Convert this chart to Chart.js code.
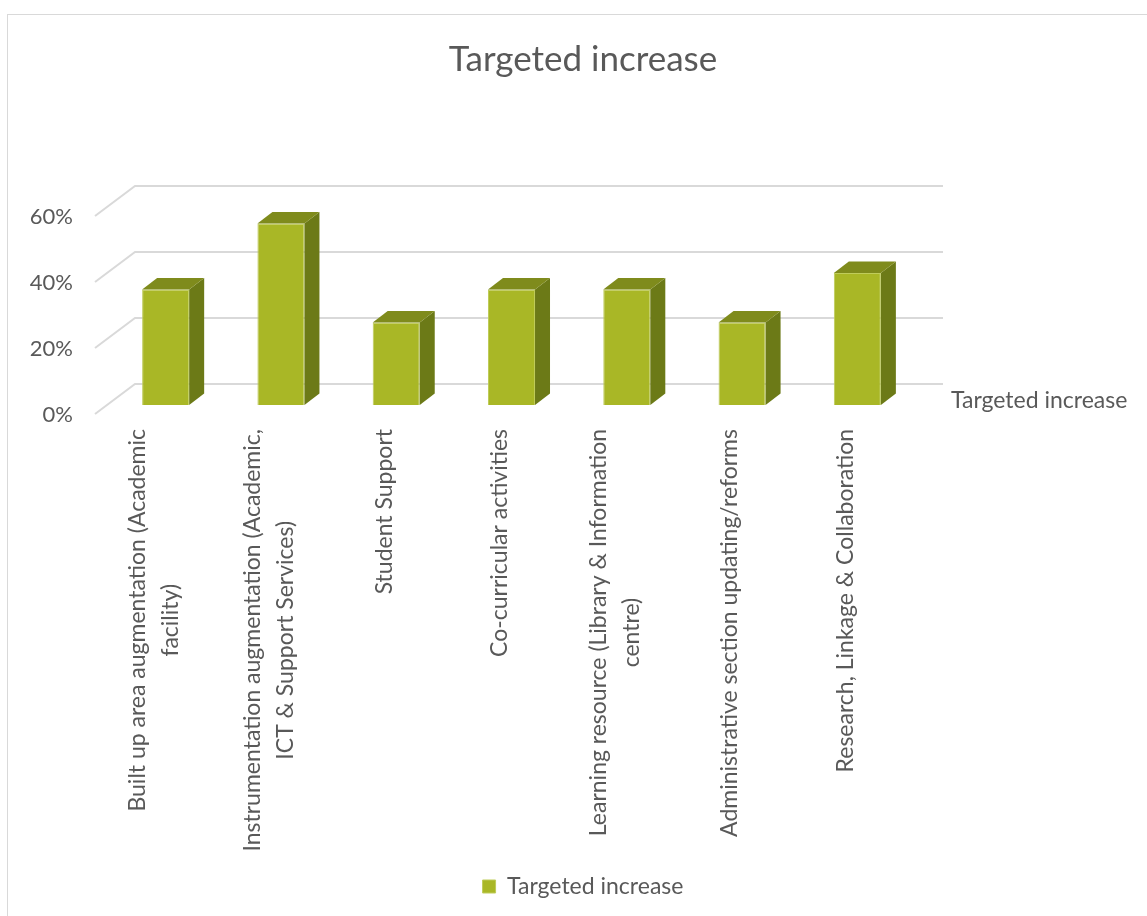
<!DOCTYPE html>
<html>
<head>
<meta charset="utf-8">
<script src="https://cdn.jsdelivr.net/npm/chart.js@4.4.1/dist/chart.umd.min.js"></script>
<style>
  html, body { margin: 0; padding: 0; background: #fff; overflow: hidden; }
  #frame { position: absolute; left: 7px; top: 14px; width: 1200px; height: 1000px; border: 1.5px solid #d9d9d9; }
  #chart { position: absolute; left: 8px; top: 15px; }
</style>
</head>
<body>
<div id="frame"></div>
<canvas id="chart" width="1150" height="893"></canvas>
<script>
// ================= DATA =================
const categories = [
    ["Built up area augmentation (Academic", "facility)"],
    ["Instrumentation augmentation (Academic,", "ICT & Support Services)"],
    ["Student Support"],
    ["Co-curricular activities"],
    ["Learning resource (Library & Information", "centre)"],
    ["Administrative section updating/reforms"],
    ["Research, Linkage & Collaboration"]
];
const seriesName = "Targeted increase";
const targetedIncrease = [0.35, 0.55, 0.25, 0.35, 0.35, 0.25, 0.40];
const yTicks = [0, 0.2, 0.4, 0.6];

// ================= STYLE =================
const FONT = "Lato, 'Open Sans', sans-serif";
const TEXT = "#595959";
const GRID = "#d9d9d9";
const FRONT = "#a9b726", SIDE = "#6c7a17", TOP = "#7f8b1c";
const DX = 15, DY = -11.5;          // bar depth
const WALL_DX = 27, WALL_DY = -21;  // back wall offset from bar fronts

// Back wall, side walls and the 3D faces of the columns
const box3d = {
    id: "box3d",
    beforeDatasetsDraw(chart) {
        const { ctx, chartArea: ca, scales: { y } } = chart;
        ctx.save();
        ctx.strokeStyle = GRID;
        ctx.lineWidth = 2;
        yTicks.forEach(v => {
            const py = y.getPixelForValue(v);
            ctx.beginPath();
            ctx.moveTo(ca.left - 13, py + 9);
            ctx.lineTo(ca.left + WALL_DX, py + WALL_DY);
            ctx.lineTo(ca.right + WALL_DX + 1, py + WALL_DY);
            ctx.stroke();
        });
        ctx.restore();
    },
    afterDatasetsDraw(chart) {
        const { ctx, chartArea: ca, scales: { x } } = chart;
        const meta = chart.getDatasetMeta(0);
        ctx.save();
        meta.data.forEach(bar => {
            const { x: cx, y: top, base, width } = bar.getProps(["x", "y", "base", "width"], true);
            const l = cx - width / 2, r = cx + width / 2;
            ctx.fillStyle = SIDE;
            ctx.beginPath();
            ctx.moveTo(r, top); ctx.lineTo(r + DX, top + DY);
            ctx.lineTo(r + DX, base + DY); ctx.lineTo(r, base);
            ctx.closePath(); ctx.fill();
            ctx.fillStyle = TOP;
            ctx.beginPath();
            ctx.moveTo(l, top); ctx.lineTo(l + DX, top + DY);
            ctx.lineTo(r + DX, top + DY); ctx.lineTo(r, top);
            ctx.closePath(); ctx.fill();
        });

        // category labels, rotated, lines centred on each other
        ctx.fillStyle = TEXT;
        ctx.font = "23px " + FONT;
        ctx.textAlign = "center";
        ctx.textBaseline = "middle";
        const lh = 33;
        categories.forEach((lines, i) => {
            const w = Math.max(...lines.map(s => ctx.measureText(s).width));
            const px = x.getPixelForTick(i) - 12;
            ctx.save();
            ctx.translate(px, ca.bottom + 24 + w / 2);
            ctx.rotate(-Math.PI / 2);
            lines.forEach((s, j) => ctx.fillText(s, 0, (j - (lines.length - 1) / 2) * lh));
            ctx.restore();
        });

        // series (depth) axis label
        ctx.textAlign = "left";
        ctx.fillText(seriesName, ca.right + 36, ca.bottom - 4);
        ctx.restore();
    }
};

new Chart(document.getElementById("chart"), {
    type: "bar",
    data: {
        labels: categories,
        datasets: [{
            label: seriesName,
            data: targetedIncrease,
            backgroundColor: FRONT,
            borderColor: "#bfcc5a",
            borderWidth: 1,
            barPercentage: 0.408,
            categoryPercentage: 1
        }]
    },
    options: {
        responsive: false,
        animation: false,
        layout: { padding: 0 },
        plugins: {
            title: {
                display: true,
                text: "Targeted increase",
                color: TEXT,
                font: { family: FONT, size: 35, weight: "normal" },
                padding: { top: 24, bottom: 126 }
            },
            legend: {
                position: "bottom",
                labels: {
                    color: TEXT,
                    font: { family: FONT, size: 23 },
                    boxWidth: 13,
                    boxHeight: 13,
                    padding: 10
                }
            },
            tooltip: { enabled: false }
        },
        scales: {
            x: {
                grid: { display: false, drawTicks: false },
                border: { display: false },
                ticks: { display: false },
                afterFit: s => { s.height = 460; }
            },
            y: {
                min: 0,
                max: 0.6,
                grid: { display: false, drawTicks: false },
                border: { display: false },
                ticks: {
                    stepSize: 0.2,
                    color: TEXT,
                    font: { family: FONT, size: 22 },
                    padding: 35,
                    labelOffset: 10,
                    callback: v => Math.round(v * 100) + "%"
                },
                afterFit: s => { s.width = 100; }
            },
            // empty right-hand box that leaves room for the depth-axis label
            yRight: {
                type: "linear",
                position: "right",
                display: true,
                grid: { display: false, drawTicks: false },
                border: { display: false },
                ticks: { display: false },
                afterFit: s => { s.width = 243; }
            }
        }
    },
    plugins: [box3d]
});
</script>
</body>
</html>
